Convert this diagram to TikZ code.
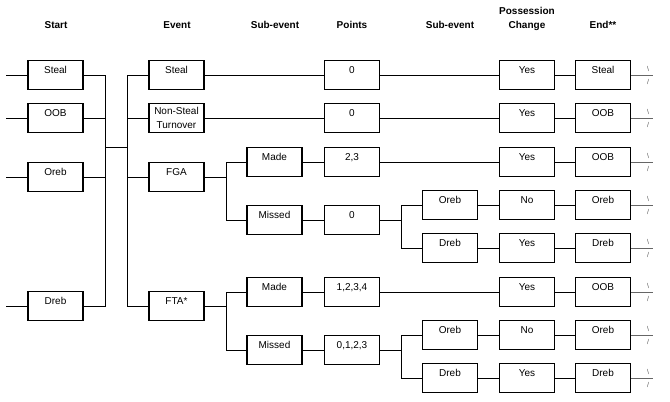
\documentclass[tikz,border=0pt]{standalone}
\usepackage{fontspec}
\setmainfont{Liberation Sans}
\usepackage{tikz}
\tikzstyle{cell}=[rectangle, draw, line width=1.1pt, minimum width=55pt, minimum height=29pt, inner xsep=1pt, inner ysep=3pt, text height=9.5pt, text depth=13.5pt, font=\fontsize{10}{12}\selectfont]
\tikzstyle{cellwrap}=[rectangle, draw, line width=1.1pt, minimum width=55pt, minimum height=29pt, inner sep=1pt, align=center, font=\fontsize{10}{14.5}\selectfont]
\tikzstyle{head}=[font=\fontsize{10}{14}\selectfont\bfseries, align=center, inner sep=0pt]
\tikzstyle{tick}=[font=\fontsize{7}{7}\selectfont, text=black!65, inner sep=0pt]

\begin{document}
\begin{tikzpicture}[x=1pt, y=-1pt, thick]
    \useasboundingbox (0,0) rectangle (670,402);
    % column heads
    \node[head, anchor=base] (h1) at (56,28) {Start};
    \node[head, anchor=base] (h2) at (177,28) {Event};
    \node[head, anchor=base] (h3) at (275,28) {Sub-event};
    \node[head, anchor=base] (h4) at (352,28) {Points};
    \node[head, anchor=base] (h5) at (450,28) {Sub-event};
    \node[head, anchor=base] (h6) at (527,28) {Possession\\Change};
    \node[head, anchor=base] (h7) at (603,28) {End**};
    % start
    \foreach \i/\y/\t in {1/75/Steal, 2/118/OOB, 3/177/Oreb, 4/306/Dreb} {
        \node[cell] (s\i) at (55.5,\y) {\t};
        \coordinate (l\i) at (6,\y);
        \draw (l\i)--(s\i);
    }
    % event
    \node[cell] (e1) at (176.5,75) {Steal};
    \node[cellwrap] (e2) at (176.5,118) {Non-Steal\\Turnover};
    \node[cell] (e3) at (176.5,177) {FGA};
    \node[cell] (e4) at (176.5,306) {FTA*};
    \coordinate (ja) at (105,147);
    \coordinate (jb) at (127,147);
    \foreach \i in {1,...,4} {
        \draw (s\i.east) -| (ja);
        \draw (jb) |- (e\i.west);
    }
    \draw (ja)--(jb);
    % sub-event
    \node[cell] (m1) at (274.5,162) {Made};
    \node[cell] (x1) at (274.5,220) {Missed};
    \node[cell] (m2) at (274.5,292) {Made};
    \node[cell] (x2) at (274.5,350) {Missed};
    \coordinate (jf) at (226,177);
    \coordinate (jt) at (226,306);
    \draw (e3)--(jf);
    \draw (jf) |- (m1.west);
    \draw (jf) |- (x1.west);
    \draw (e4)--(jt);
    \draw (jt) |- (m2.west);
    \draw (jt) |- (x2.west);
    % points
    \node[cell] (p1) at (352,75) {0};
    \node[cell] (p2) at (352,118) {0};
    \node[cell] (p3) at (352,162) {2,3};
    \node[cell] (p4) at (352,220) {0};
    \node[cell] (p5) at (352,292) {1,2,3,4};
    \node[cell] (p6) at (352,350) {0,1,2,3};
    \draw (e1)--(p1);
    \draw (e2)--(p2);
    \draw (m1)--(p3);
    \draw (x1)--(p4);
    \draw (m2)--(p5);
    \draw (x2)--(p6);
    % second sub-event
    \node[cell] (o1) at (450,205) {Oreb};
    \node[cell] (d1) at (450,248) {Dreb};
    \node[cell] (o2) at (450,335) {Oreb};
    \node[cell] (d2) at (450,378) {Dreb};
    \coordinate (jp) at (401,220);
    \coordinate (jq) at (401,350);
    \draw (p4)--(jp);
    \draw (jp) |- (o1.west);
    \draw (jp) |- (d1.west);
    \draw (p6)--(jq);
    \draw (jq) |- (o2.west);
    \draw (jq) |- (d2.west);
    % possession change and end
    \foreach \i/\y/\c/\n in {1/75/Yes/Steal, 2/118/Yes/OOB, 3/162/Yes/OOB, 4/205/No/Oreb,
                             5/248/Yes/Dreb, 6/292/Yes/OOB, 7/335/No/Oreb, 8/378/Yes/Dreb} {
        \node[cell] (c\i) at (527,\y) {\c};
        \node[cell] (n\i) at (603,\y) {\n};
        \draw (c\i)--(n\i);
        \coordinate (t\i) at (653,\y);
        \draw[black!60] (n\i)--(t\i);
        \node[tick] (b\i) at (648,\y-6) {\textbackslash};
        \node[tick] (f\i) at (648,\y+7) {/};
    }
    \draw (p1)--(c1);
    \draw (p2)--(c2);
    \draw (p3)--(c3);
    \draw (o1)--(c4);
    \draw (d1)--(c5);
    \draw (p5)--(c6);
    \draw (o2)--(c7);
    \draw (d2)--(c8);
\end{tikzpicture}
\end{document}
